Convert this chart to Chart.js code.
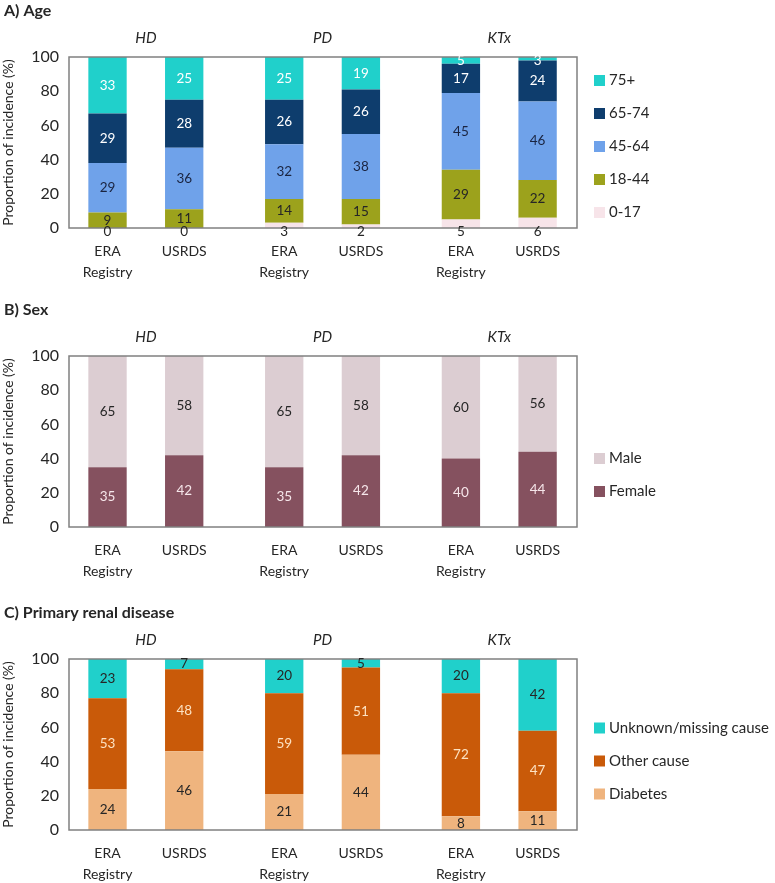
<!DOCTYPE html>
<html>
<head>
<meta charset="utf-8">
<script src="https://cdn.jsdelivr.net/npm/chart.js@4"></script>
<style>
    body { margin: 0; background: #fff; }
    .panel { position: absolute; left: 0; width: 775px; height: 280px; }
</style>
</head>
<body>
<div class="panel" style="top:0"><canvas id="chart-age" width="775" height="280"></canvas></div>
<div class="panel" style="top:299px"><canvas id="chart-sex" width="775" height="280"></canvas></div>
<div class="panel" style="top:602px"><canvas id="chart-prd" width="775" height="280"></canvas></div>
<script>
// groups along the x axis, and the two sources shown inside each group
const groups = ["HD", "PD", "KTx"];
const sources = ["ERA\nRegistry", "USRDS"];

// rows follow the legend categories (bottom of stack first), columns follow groups
const ageBands = ["0-17", "18-44", "45-64", "65-74", "75+"];
const ageEra = [[0, 3, 5], [9, 14, 29], [29, 32, 45], [29, 26, 17], [33, 25, 5]];
const ageUsrds = [[0, 2, 6], [11, 15, 22], [36, 38, 46], [28, 26, 24], [25, 19, 3]];

const sexes = ["Female", "Male"];
const sexEra = [[35, 35, 40], [65, 65, 60]];
const sexUsrds = [[42, 42, 44], [58, 58, 56]];

const causes = ["Diabetes", "Other cause", "Unknown/missing cause"];
const causeEra = [[24, 21, 8], [53, 59, 72], [23, 20, 20]];
const causeUsrds = [[46, 44, 11], [48, 51, 47], [7, 5, 42]];

const yTicks = [0, 20, 40, 60, 80, 100];

const FONT = "Lato, 'Open Sans', sans-serif";
const TEXT = "#262626";

const annotate = {
    id: "annotate",
    afterDatasetsDraw(chart, args, opts) {
        const ctx = chart.ctx, area = chart.chartArea, xs = chart.scales.x;
        ctx.save();
        ctx.strokeStyle = "#808080";
        ctx.lineWidth = 1.5;
        ctx.strokeRect(area.left, area.top, area.width, area.height);

        ctx.textAlign = "center";
        ctx.textBaseline = "middle";
        ctx.font = `13.5px ${FONT}`;
        chart.data.datasets.forEach((ds, di) => {
            chart.getDatasetMeta(di).data.forEach((bar, i) => {
                const y = ds.labelAtBase ? bar.base + 4 : (bar.y + bar.base) / 2;
                ctx.fillStyle = ds.labelColor;
                ctx.fillText(ds.data[i].y, bar.x, Math.max(y, area.top + 4));
            });
        });

        // source names under each bar
        ctx.fillStyle = TEXT;
        ctx.font = `14px ${FONT}`;
        sources.forEach((src, si) => {
            chart.getDatasetMeta(si).data.forEach(bar => {
                src.split("\n").forEach((line, li) => ctx.fillText(line, bar.x, area.bottom + 23 + li * 21));
            });
        });

        // group names above the plot
        ctx.font = `italic 15px ${FONT}`;
        groups.forEach((g, i) => ctx.fillText(g, xs.getPixelForValue(i), area.top - 19));

        ctx.textAlign = "left";
        ctx.font = `bold 16px ${FONT}`;
        ctx.fillText(opts.title, 4, 11);

        // legend, top entry is the top of the stack
        ctx.font = `15px ${FONT}`;
        const items = opts.names.map((n, k) => ({ n, c: opts.colors[k] })).reverse();
        const step = 33;
        const y0 = opts.legendMid - (items.length - 1) * step / 2;
        items.forEach((it, k) => {
            const y = y0 + k * step;
            ctx.fillStyle = it.c;
            ctx.fillRect(area.right + 17, y - 5.5, 11, 11);
            ctx.fillStyle = TEXT;
            ctx.fillText(it.n, area.right + 32, y);
        });
        ctx.restore();
    }
};

function buildDatasets(names, era, usrds, colors, labelColors, baseLabel) {
    const sets = [];
    names.forEach((name, k) => {
        [[era, "era"], [usrds, "usrds"]].forEach(([rows, stack]) => {
            sets.push({
                label: name, stack,
                data: rows[k].map((v, i) => ({ x: i, y: v })),
                backgroundColor: colors[k],
                labelColor: labelColors[k],
                labelAtBase: k === baseLabel,
                categoryPercentage: 0.868, barPercentage: 0.5
            });
        });
    });
    return sets;
}

function makePanel(id, title, names, era, usrds, colors, labelColors, legendMid, baseLabel) {
    return new Chart(document.getElementById(id), {
        type: "bar",
        data: { datasets: buildDatasets(names, era, usrds, colors, labelColors, baseLabel) },
        options: {
            responsive: false, animation: false,
            layout: { padding: { top: 57, bottom: 52, left: 0, right: 198 } },
            plugins: {
                legend: { display: false }, tooltip: { enabled: false },
                annotate: { title, names, colors, legendMid }
            },
            scales: {
                x: {
                    type: "linear", display: false, stacked: true, offset: false, min: -0.435, max: 2.44,
                    afterBuildTicks: s => { s.ticks = groups.map((g, i) => ({ value: i })); }
                },
                y: {
                    stacked: true, min: 0, max: 100,
                    afterFit: s => { s.width = 69; },
                    afterBuildTicks: s => { s.ticks = yTicks.map(v => ({ value: v })); },
                    grid: { display: false, drawTicks: false },
                    border: { display: false },
                    ticks: { padding: 10, color: TEXT, font: { family: FONT, size: 16 } },
                    title: { display: true, text: "Proportion of incidence (%)", color: TEXT, padding: 0, font: { family: FONT, size: 14 } }
                }
            }
        },
        plugins: [annotate]
    });
}

makePanel("chart-age", "A) Age", ageBands, ageEra, ageUsrds,
    ["#f7e4e9", "#9ca21c", "#6fa2ea", "#0e3d6d", "#20d0cb"],
    [TEXT, TEXT, "#1a2440", "#ffffff", "#ffffff"], 146.5, 0);

makePanel("chart-sex", "B) Sex", sexes, sexEra, sexUsrds,
    ["#85515f", "#dccdd2"],
    ["#f6e6ea", TEXT], 176, -1);

makePanel("chart-prd", "C) Primary renal disease", causes, causeEra, causeUsrds,
    ["#efb47e", "#c95a09", "#20d0cb"],
    [TEXT, "#fde2c2", TEXT], 159, -1);
</script>
</body>
</html>
